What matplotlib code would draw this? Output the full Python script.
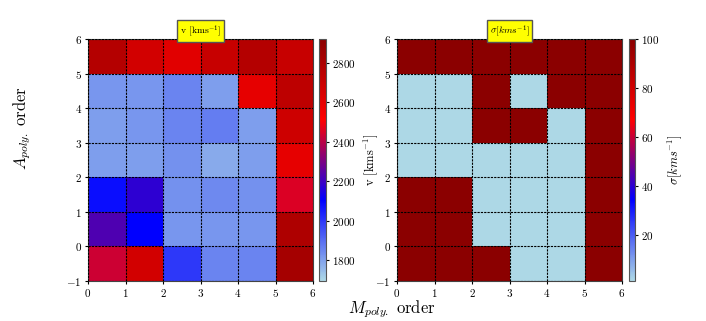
import matplotlib
matplotlib.use("Agg")
import matplotlib.pyplot as plt
from matplotlib.colors import LinearSegmentedColormap
import numpy as np

plt.rcParams['font.family'] = 'serif'
plt.rcParams['font.serif'] = ['cmr10']
plt.rcParams['mathtext.fontset'] = 'cm'
plt.rcParams['axes.formatter.use_mathtext'] = True
plt.rcParams['axes.unicode_minus'] = True

# polynomial orders (cell edges)
m_edges = [0, 1, 2, 3, 4, 5, 6]
a_edges = [-1, 0, 1, 2, 3, 4, 5, 6]

# velocity grid, rows from A=-1 (bottom) to A=5 (top)
v_grid = np.array([
    [2430, 2671, 1996, 1854, 1854, 2830],
    [2230, 2102, 1818, 1818, 1818, 2795],
    [2079, 2176, 1830, 1842, 1830, 2455],
    [1806, 1806, 1830, 1782, 1806, 2600],
    [1806, 1818, 1854, 1866, 1806, 2690],
    [1818, 1818, 1854, 1806, 2600, 2741],
    [2777, 2671, 2618, 2706, 2777, 2706],
])

# dispersion grid
sig_grid = np.array([
    [100, 100, 100, 1, 1, 100],
    [100, 100, 1, 1, 1, 100],
    [100, 100, 1, 1, 1, 100],
    [1, 1, 1, 1, 1, 100],
    [1, 1, 100, 100, 1, 100],
    [1, 1, 100, 1, 100, 100],
    [100, 100, 100, 100, 100, 100],
])

cmap = LinearSegmentedColormap.from_list('lbr', ['lightblue', 'blue', 'red', 'darkred'])

fig = plt.figure(figsize=(7.06, 3.21), dpi=100)
W, H = 706, 321

def box(x0, y0, x1, y1):
    return [x0 / W, 1 - y1 / H, (x1 - x0) / W, (y1 - y0) / H]

ax1 = fig.add_axes(box(88, 39, 313, 281))
cax1 = fig.add_axes(box(319, 39, 326, 281))
ax2 = fig.add_axes(box(397, 39, 622, 281))
cax2 = fig.add_axes(box(629, 39, 635, 281))

panels = [
    (ax1, cax1, v_grid, 1693, 2922, r'v [kms$^{-1}$]', r'v [kms$^{-1}$]', [1800, 2000, 2200, 2400, 2600, 2800]),
    (ax2, cax2, sig_grid, 1, 100, r'$\sigma [kms^{-1}]$', r'$\sigma [kms^{-1}]$', [20, 40, 60, 80, 100]),
]

for ax, cax, grid, lo, hi, title, clabel, cticks in panels:
    pc = ax.pcolormesh(m_edges, a_edges, grid, cmap=cmap, vmin=lo, vmax=hi)
    ax.set_xlim(0, 6)
    ax.set_ylim(-1, 6)
    ax.set_xticks(m_edges)
    ax.set_yticks(a_edges)
    ax.tick_params(labelsize=8, length=2.5, pad=2)
    ax.grid(True, color='k', linestyle='--', linewidth=0.8, dashes=(2, 1))
    ax.set_axisbelow(False)
    for s in ax.spines.values():
        s.set_edgecolor('#444444')
    ax.set_title(title, fontsize=7, pad=3,
                 bbox=dict(facecolor='yellow', edgecolor='#555555', boxstyle='square,pad=0.3'))
    cb = fig.colorbar(pc, cax=cax, ticks=cticks)
    cb.outline.set_edgecolor('#555555')
    cb.ax.tick_params(labelsize=8, length=2.5, pad=2)
    cb.set_label(clabel, fontsize=9, labelpad=4)

fig.text(22 / W, 1 - 128 / H, r'$A_{poly.}\ \mathrm{order}$', rotation=90, fontsize=12,
         ha='center', va='center')
fig.text(392 / W, 1 - 309 / H, r'$M_{poly.}\ \mathrm{order}$', fontsize=12,
         ha='center', va='center')

fig.savefig('out.png', dpi=100)
